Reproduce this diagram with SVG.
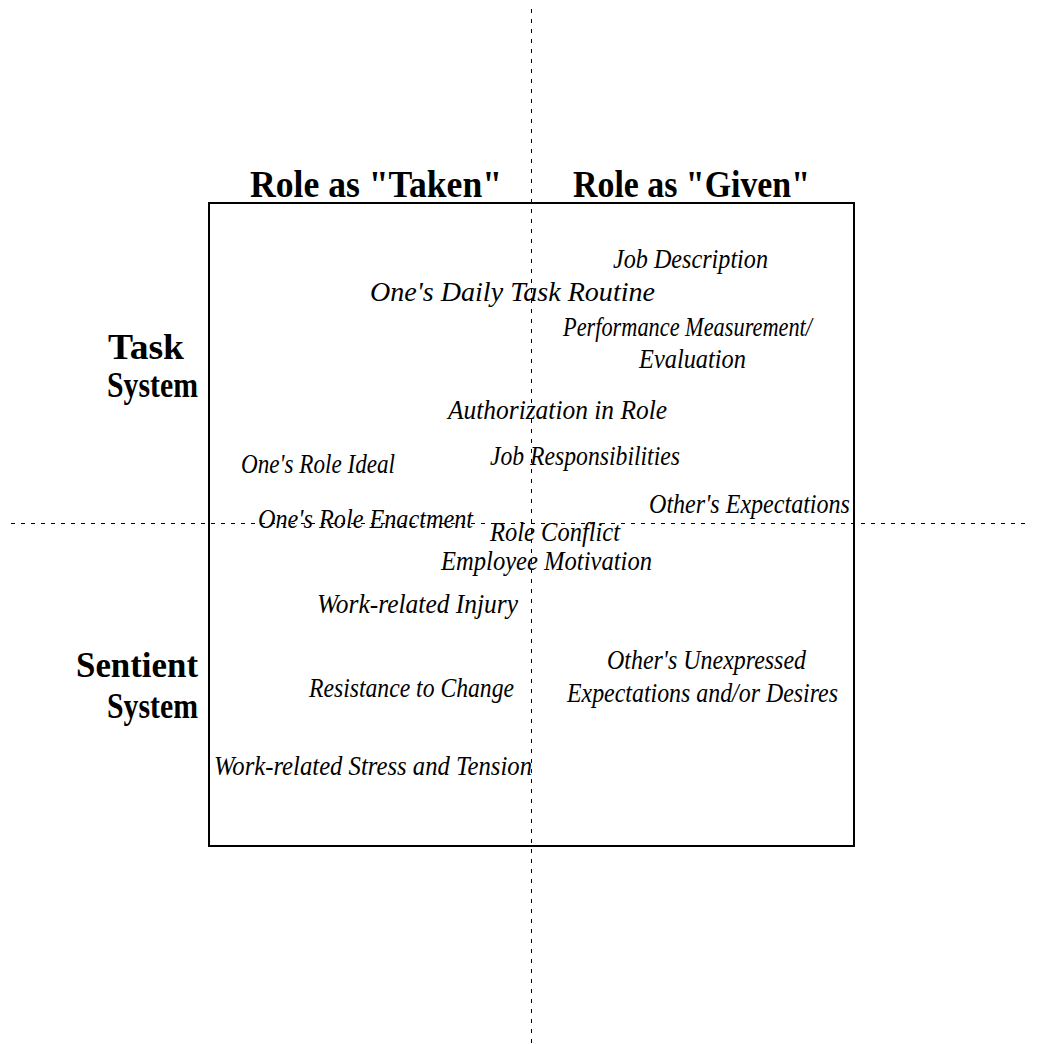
<svg xmlns="http://www.w3.org/2000/svg" width="1039" height="1044" viewBox="0 0 1039 1044">
<style>
.axis{stroke:#000;stroke-width:1;stroke-dasharray:4 6;fill:none}
.frame{stroke:#000;stroke-width:2;fill:none}
.head{font-family:"Liberation Serif",serif;font-weight:bold;font-size:37px;fill:#000}
.side{font-family:"Liberation Serif",serif;font-weight:bold;font-size:36px;fill:#000;text-anchor:end}
.lbl{font-family:"Liberation Serif",serif;font-style:italic;font-size:28px;fill:#000}
</style>
<rect width="1039" height="1044" fill="#fff"/>
<g id="connectors">
<line class="axis" x1="531.5" y1="9" x2="531.5" y2="1044"/>
<line class="axis" x1="11" y1="523.5" x2="1030" y2="523.5"/>
</g>
<g id="frame"><rect class="frame" x="209" y="203" width="645" height="643"/></g>
<g id="headers">
<text class="head" x="250" y="197" textLength="252" lengthAdjust="spacingAndGlyphs">Role as "Taken"</text>
<text class="head" x="573" y="197" textLength="237" lengthAdjust="spacingAndGlyphs">Role as "Given"</text>
<text class="side" x="184" y="359" textLength="76" lengthAdjust="spacingAndGlyphs">Task</text>
<text class="side" x="198" y="397" textLength="91" lengthAdjust="spacingAndGlyphs">System</text>
<text class="side" x="198" y="677" textLength="122" lengthAdjust="spacingAndGlyphs">Sentient</text>
<text class="side" x="198" y="718" textLength="91" lengthAdjust="spacingAndGlyphs">System</text>
</g>
<g id="n1"><text class="lbl" x="613" y="268" textLength="155" lengthAdjust="spacingAndGlyphs">Job Description</text></g>
<g id="n2"><text class="lbl" x="370" y="301" textLength="285" lengthAdjust="spacingAndGlyphs">One's Daily Task Routine</text></g>
<g id="n3"><text class="lbl" x="563" y="336" textLength="249" lengthAdjust="spacingAndGlyphs">Performance Measurement/</text>
<text class="lbl" x="639" y="368" textLength="107" lengthAdjust="spacingAndGlyphs">Evaluation</text></g>
<g id="n4"><text class="lbl" x="448" y="419" textLength="219" lengthAdjust="spacingAndGlyphs">Authorization in Role</text></g>
<g id="n5"><text class="lbl" x="490" y="465" textLength="190" lengthAdjust="spacingAndGlyphs">Job Responsibilities</text></g>
<g id="n6"><text class="lbl" x="241" y="473" textLength="154" lengthAdjust="spacingAndGlyphs">One's Role Ideal</text></g>
<g id="n7"><text class="lbl" x="649" y="513" textLength="201" lengthAdjust="spacingAndGlyphs">Other's Expectations</text></g>
<g id="n8"><text class="lbl" x="258" y="528" textLength="215" lengthAdjust="spacingAndGlyphs">One's Role Enactment</text></g>
<g id="n9"><text class="lbl" x="490" y="541" textLength="130" lengthAdjust="spacingAndGlyphs">Role Conflict</text></g>
<g id="n10"><text class="lbl" x="441" y="570" textLength="211" lengthAdjust="spacingAndGlyphs">Employee Motivation</text></g>
<g id="n11"><text class="lbl" x="317" y="613" textLength="201" lengthAdjust="spacingAndGlyphs">Work-related Injury</text></g>
<g id="n12"><text class="lbl" x="607" y="669" textLength="199" lengthAdjust="spacingAndGlyphs">Other's Unexpressed</text>
<text class="lbl" x="567" y="702" textLength="271" lengthAdjust="spacingAndGlyphs">Expectations and/or Desires</text></g>
<g id="n13"><text class="lbl" x="309" y="697" textLength="205" lengthAdjust="spacingAndGlyphs">Resistance to Change</text></g>
<g id="n14"><text class="lbl" x="214" y="775" textLength="318" lengthAdjust="spacingAndGlyphs">Work-related Stress and Tension</text></g>
</svg>
